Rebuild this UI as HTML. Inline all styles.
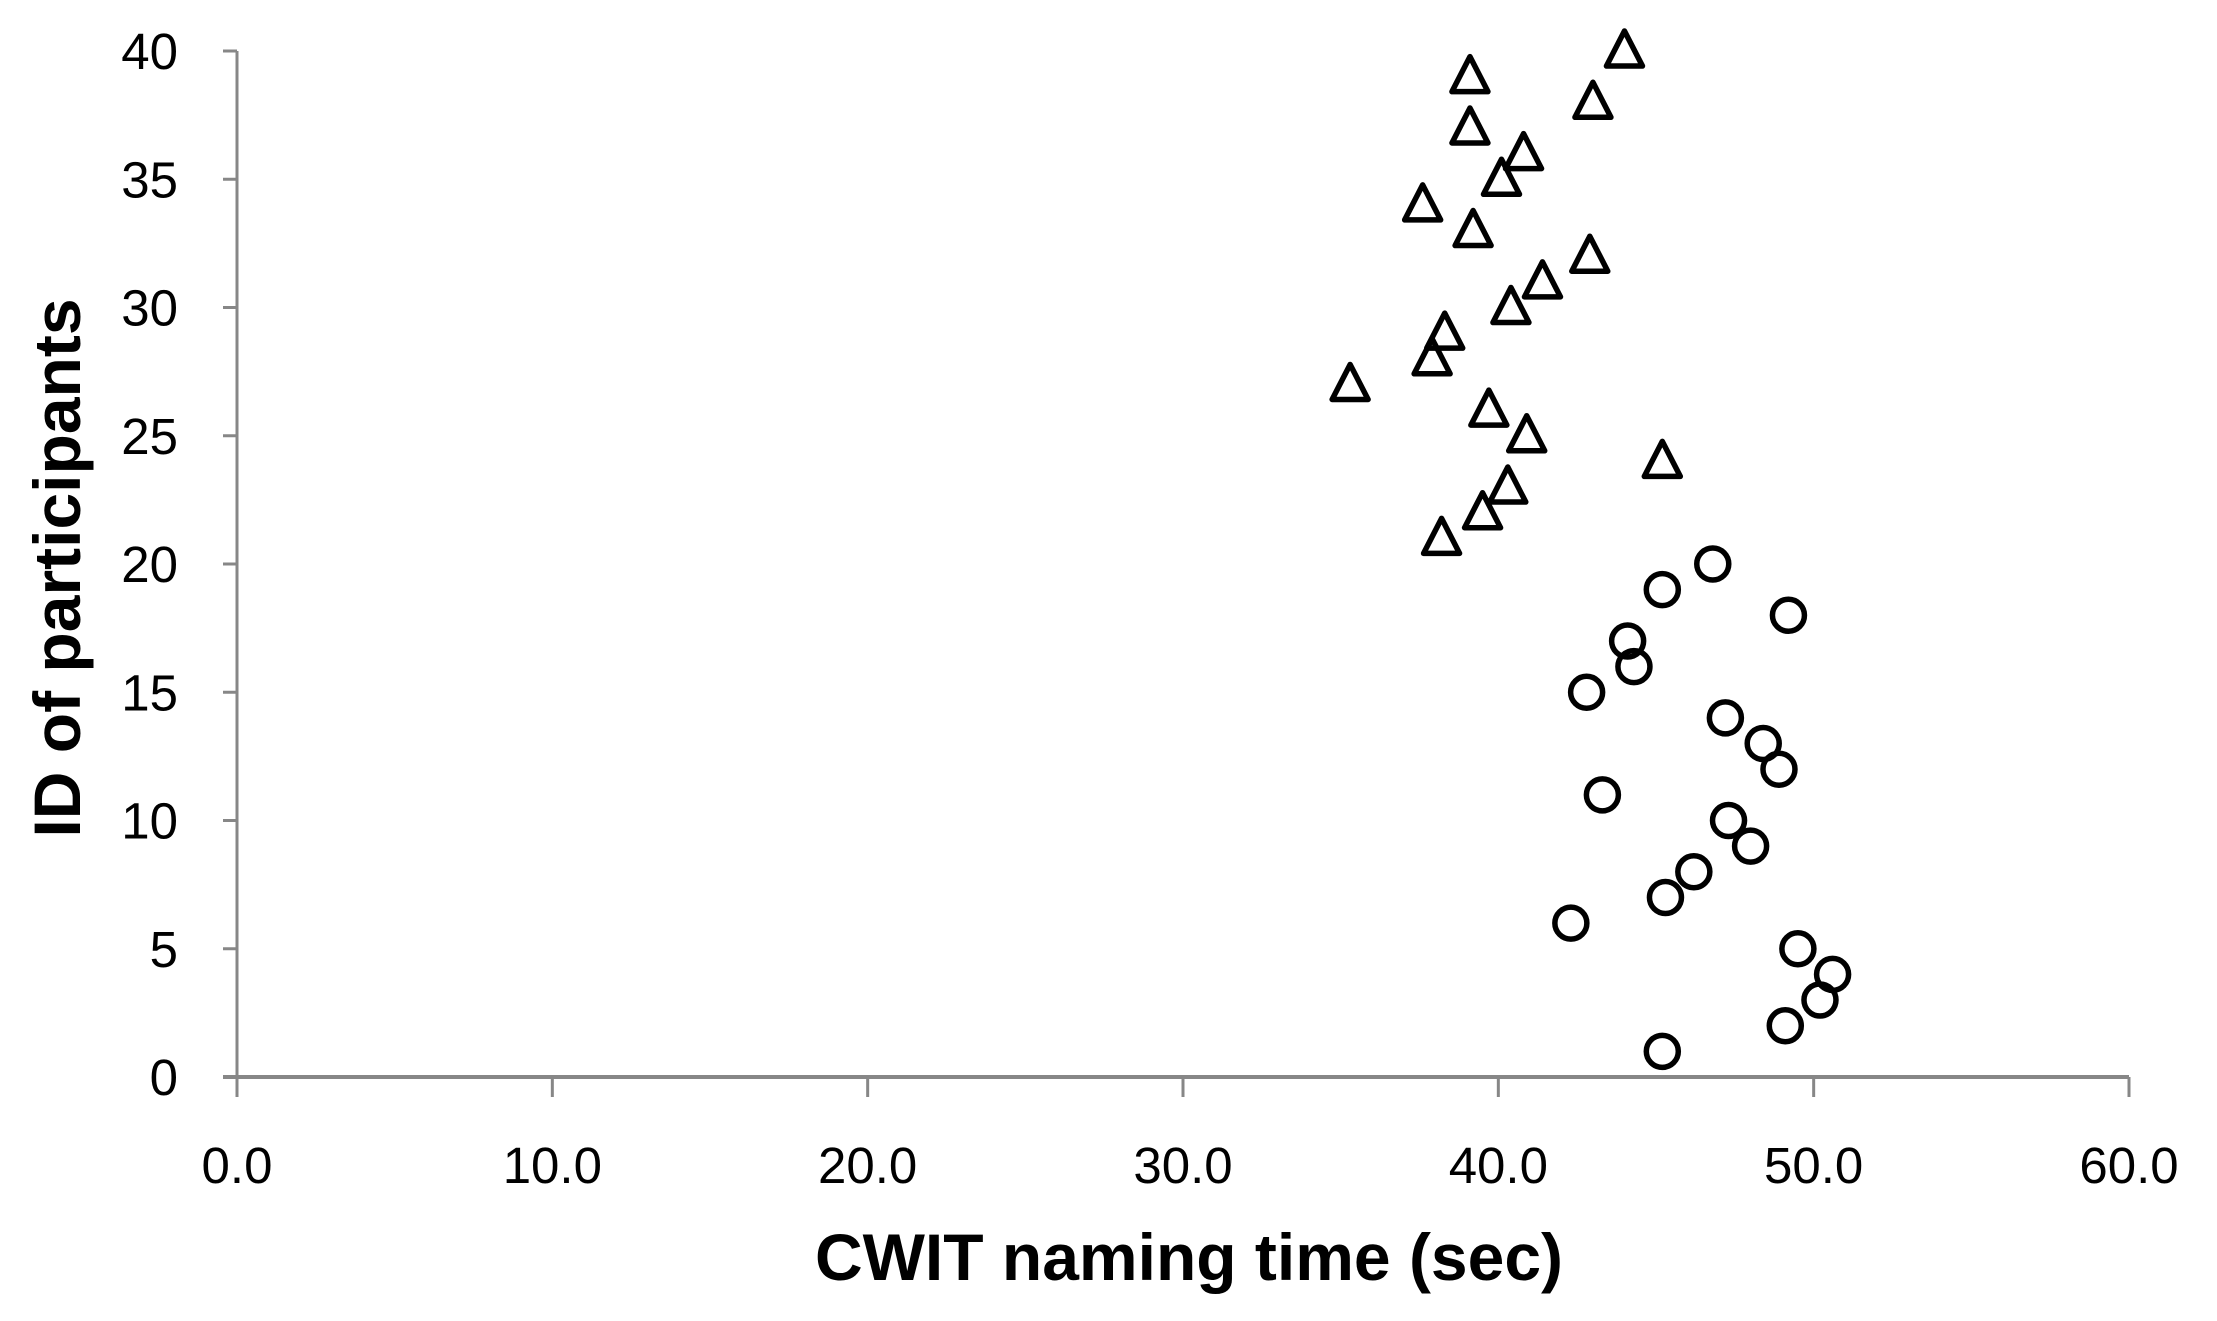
<!DOCTYPE html>
<html><head><meta charset="utf-8"><style>
html,body{margin:0;padding:0;background:#fff;}
svg{display:block;}
text{font-family:"Liberation Sans",sans-serif;fill:#000;}
</style></head><body>
<svg id="chart" width="2217" height="1321" viewBox="0 0 2217 1321" xmlns="http://www.w3.org/2000/svg">
<g id="axes"></g>
<g id="marks"></g>
<text x="1189" y="1280" text-anchor="middle" font-size="66" font-weight="bold">CWIT naming time (sec)</text>
<text transform="translate(80,568) rotate(-90)" text-anchor="middle" font-size="66" font-weight="bold">ID of participants</text>
</svg>
<script>
const circleIds = [1,2,3,4,5,6,7,8,9,10,11,12,13,14,15,16,17,18,19,20];
const circleTimes = [45.2,49.1,50.2,50.6,49.5,42.3,45.3,46.2,48.0,47.3,43.3,48.9,48.4,47.2,42.8,44.3,44.1,49.2,45.2,46.8];
const triangleIds = [21,22,23,24,25,26,27,28,29,30,31,32,33,34,35,36,37,38,39,40];
const triangleTimes = [38.2,39.5,40.3,45.2,40.9,39.7,35.3,37.9,38.3,40.4,41.4,42.9,39.2,37.6,40.1,40.8,39.1,43.0,39.1,44.0];
const xTicks = [0,10,20,30,40,50,60];
const xTickLabels = ["0.0","10.0","20.0","30.0","40.0","50.0","60.0"];
const yTicks = [0,5,10,15,20,25,30,35,40];
const yTickLabels = ["0","5","10","15","20","25","30","35","40"];

const NS = "http://www.w3.org/2000/svg";
const X0 = 237, X1 = 2129, Y0 = 1077, Y1 = 51;
const xScale = v => X0 + (v - 0) / 60 * (X1 - X0);
const yScale = v => Y0 - (v - 0) / 40 * (Y0 - Y1);
function mk(tag, attrs, parent) {
  const e = document.createElementNS(NS, tag);
  for (const k in attrs) e.setAttribute(k, attrs[k]);
  parent.appendChild(e);
  return e;
}
const axes = document.getElementById('axes');
const marks = document.getElementById('marks');
const ax = "#878787";
let l = mk('line', {x1: X0, y1: Y0, x2: X0, y2: Y1, stroke: ax, 'stroke-width': 3}, axes);


l = mk('line', {x1: X0 - 14, y1: Y0, x2: X1, y2: Y0, stroke: ax, 'stroke-width': 4}, axes);


xTicks.forEach((v, i) => {
  const x = xScale(v);
  const t = mk('line', {x1: x, y1: Y0, x2: x, y2: Y0 + 20, stroke: ax, 'stroke-width': 3}, axes);
  
  
  const tx = mk('text', {x: x, y: Y0 + 106, 'text-anchor': 'middle', 'font-size': 51}, axes);
  tx.textContent = xTickLabels[i];
  
  
});
yTicks.forEach((v, i) => {
  const y = yScale(v);
  const t = mk('line', {x1: X0 - 14, y1: y, x2: X0, y2: y, stroke: ax, 'stroke-width': 3}, axes);
  
  
  const tx = mk('text', {x: 178, y: y + 18, 'text-anchor': 'end', 'font-size': 51}, axes);
  tx.textContent = yTickLabels[i];
  
  
});
circleIds.forEach((id, i) => {
  const c = mk('circle', {cx: xScale(circleTimes[i]), cy: yScale(id), r: 16, fill: 'none', stroke: '#000', 'stroke-width': 5.5}, marks);
  
  
});
triangleIds.forEach((id, i) => {
  const x = xScale(triangleTimes[i]), y = yScale(id);
  const p = mk('polygon', {points: `${x},${y-20} ${x-18},${y+15} ${x+18},${y+15}`, fill: 'none', stroke: '#000', 'stroke-width': 5.5, 'stroke-linejoin': 'round'}, marks);
  
  
});
</script>
</body></html>
